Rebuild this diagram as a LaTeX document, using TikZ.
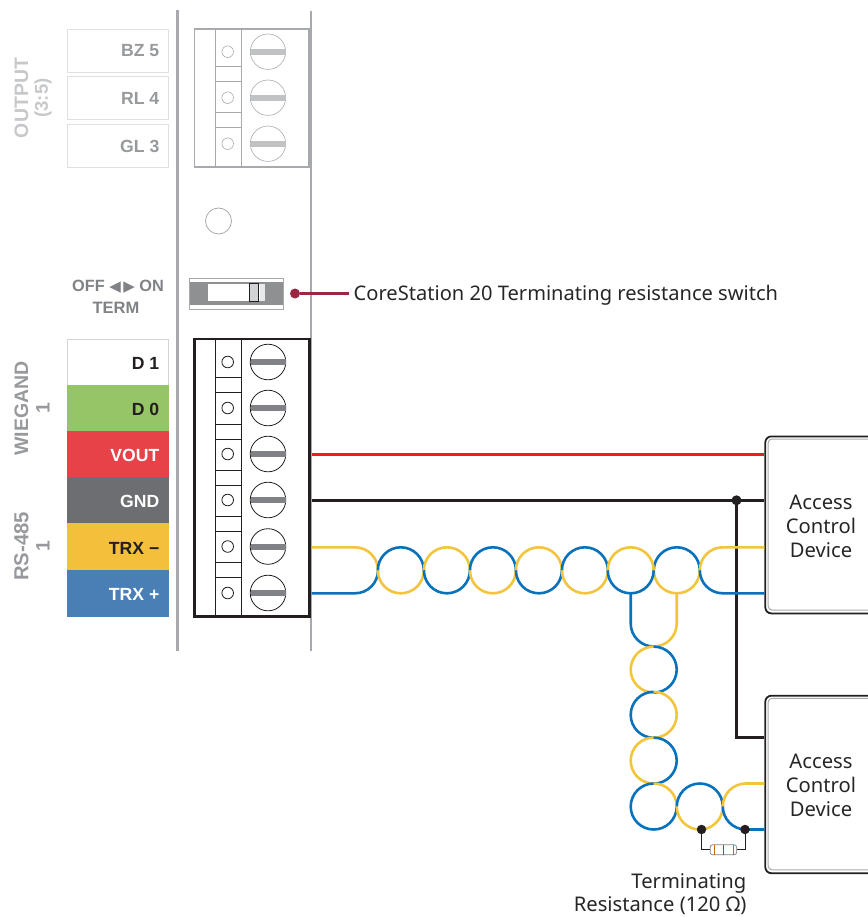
\documentclass[tikz,border=0pt]{standalone}
\usepackage{fontspec}
\setmainfont{Noto Sans}
\newfontfamily\arialf{Liberation Sans}
\newfontfamily\symf{DejaVu Sans}
\definecolor{pgray}{HTML}{A7A9AC}
\definecolor{tgray}{HTML}{97999C}
\definecolor{pdark}{HTML}{808285}
\definecolor{lgray}{HTML}{D1D3D4}
\definecolor{tlight}{HTML}{C7C8CA}
\definecolor{wyellow}{HTML}{F2C53D}
\definecolor{wblue}{HTML}{0A72BA}
\definecolor{wred}{HTML}{ED1C24}
\definecolor{wblack}{HTML}{231F20}
\definecolor{maroon}{HTML}{9B2743}
\definecolor{pgreen}{HTML}{96C568}
\definecolor{pred}{HTML}{E64248}
\definecolor{pgrey}{HTML}{6D6E71}
\definecolor{pyellow}{HTML}{F4BF3A}
\definecolor{pblue}{HTML}{4A7FB5}
\newcommand{\halfarc}[5]{\draw[#5] (#1,#2) ++(#3:23) arc[start angle=#3,end angle=#4,radius=23];}
\tikzset{
 x=1pt,y=-1pt,
 pinlabel/.style={font=\arialf\bfseries\fontsize{17.6}{17.6}\selectfont,anchor=east,inner sep=0pt},
 sidelabel/.style={font=\arialf\bfseries\fontsize{19.5}{19.5}\selectfont,rotate=90,inner sep=0pt},
 pinbox/.style={minimum width=102pt,inner sep=0pt,anchor=north west},
 ywire/.style={draw=wyellow,line width=2.6pt},
 bwire/.style={draw=wblue,line width=2.6pt},
 kwire/.style={draw=wblack,line width=2.5pt},
 rwire/.style={draw=wred,line width=2.5pt},
 devbox/.style={draw=wblack,line width=1.8pt,rounded corners=6pt,minimum width=140pt,minimum height=#1,inner sep=0pt,anchor=north west},
 devinner/.style={draw=pgray,line width=1pt,rounded corners=4pt,minimum width=140pt,minimum height=#1,inner sep=0pt,anchor=north west},
 devtext/.style={font=\fontsize{20.2}{24}\selectfont,align=center,text=black!85,inner sep=0pt},
 dotk/.style={circle,fill=wblack,minimum size=#1,inner sep=0pt},
 notelabel/.style={font=\fontsize{20.2}{24}\selectfont,text=black!85,inner sep=0pt,anchor=base east},
}
\begin{document}
\begin{tikzpicture}
\useasboundingbox (0,0) rectangle (867,917);
% enclosure rails
\coordinate (railLt) at (177,10); \coordinate (railLb) at (177,651);
\coordinate (railRt) at (310.5,11); \coordinate (railRb) at (310.5,651);
\draw[pgray,line width=3pt] (railLt) -- (railLb);
\draw[pgray,line width=2pt] (railRt) -- (railRb);
% output labels
\foreach \n/\yy/\t in {bz/29/BZ 5,rl/76.5/RL 4,gl/124/GL 3}{
 \node[pinbox,draw=lgray!70,line width=1pt,minimum width=101.5pt,minimum height=43pt] (\n) at (66.7,\yy) {};
 \node[pinlabel,text=tgray] (\n t) at (159.5,\yy+22) {\t};
}
\node[sidelabel,text=tlight] (outa) at (21.5,98) {OUTPUT};
\node[sidelabel,text=tlight,font=\arialf\bfseries\fontsize{18.5}{18.5}\selectfont] (outb) at (43,98) {(3:5)};
% upper terminal block
\draw[pgray,line width=1.8pt] (194.5,29) rectangle (309,167);
\draw[pgray,line width=1pt] (215.3,29) -- (215.3,167) (241,29) -- (241,167)
 (215.3,67) -- (241,67) (215.3,82) -- (241,82) (215.3,113) -- (241,113) (215.3,128) -- (241,128);
\foreach \yy in {51.7,97.7,143.7}{
 \draw[pgray,line width=.6pt] (227.7,\yy) circle[radius=5.8];
 \draw[pgray,line width=.6pt] (268,\yy) circle[radius=17.7];
 \fill[lgray!60!pgray] (250.5,\yy-3) rectangle (285.5,\yy+3);
}
% LED
\node[circle,draw=pgray,line width=.8pt,minimum size=26pt,inner sep=0pt] (led) at (218.5,221) {};
% switch
\node[draw=pgray,line width=.8pt,minimum width=94pt,minimum height=31pt,inner sep=0pt] (sw) at (236.5,293.5) {};
\fill[pgray!85!black] (190,282) rectangle (283,305);
\fill[white] (208,284) rectangle (265,301);
\fill[lgray!50] (260,284) rectangle (265,301);
\draw[wblack,fill=lgray,line width=.8pt] (249.5,283.5) rectangle (258.5,301.5);
\node[circle,fill=maroon,minimum size=10pt,inner sep=0pt] (swdot) at (295,293.5) {};
\node[font=\fontsize{20.1}{22}\selectfont,anchor=base west,text=black!85,inner xsep=5pt,inner ysep=0pt] (swlabel) at (348.5,300.5) {CoreStation 20 Terminating resistance switch};
\draw[maroon,line width=2.5pt] (swdot) -- (swdot -| swlabel.west);
\node[font=\arialf\bfseries\fontsize{16.3}{16.3}\selectfont,text=pdark,inner sep=0pt] (offon) at (118,287) {OFF {\symf\fontsize{15}{15}\selectfont ◀\,▶} ON};
\node[font=\arialf\bfseries\fontsize{16.5}{16.5}\selectfont,text=pdark,inner sep=0pt] (term) at (116,308) {TERM};
% lower pin labels
\node[pinbox,fill=white,draw=lgray,line width=1pt,minimum width=101.5pt,minimum height=46pt] (d1) at (66.7,339) {};
\node[pinbox,fill=pgreen,minimum height=46.2pt] (d0) at (66.5,385) {};
\node[pinbox,fill=pred,minimum height=46.2pt] (vout) at (66.5,431) {};
\node[pinbox,fill=pgrey,minimum height=46.2pt] (gnd) at (66.5,477) {};
\node[pinbox,fill=pyellow,minimum height=47.2pt] (trxm) at (66.5,523) {};
\node[pinbox,fill=pblue,minimum height=47pt] (trxp) at (66.5,570) {};
\node[pinlabel,text=wblack] (d1t) at (159.5,363) {D 1};
\node[pinlabel,text=wblack] (d0t) at (159.5,409) {D 0};
\node[pinlabel,text=white] (voutt) at (159.5,455) {VOUT};
\node[pinlabel,text=white] (gndt) at (159.5,501.5) {GND};
\node[pinlabel,text=wblack] (trxmt) at (159.5,548) {TRX −};
\node[pinlabel,text=white] (trxpt) at (159.5,594) {TRX +};
\node[sidelabel,text=tgray] (wg) at (21.5,408.5) {WIEGAND};
\node[sidelabel,text=tgray] (wg1) at (43,408.5) {1};
\node[sidelabel,text=tgray,font=\arialf\bfseries\fontsize{20.3}{20.3}\selectfont] (rs) at (21.5,546.5) {RS-485};
\node[sidelabel,text=tgray] (rs1) at (43,546.5) {1};
% lower terminal block
\draw[wblack,line width=1pt] (215.3,339) -- (215.3,616.5) (241,339) -- (241,616.5);
\foreach \a in {377.3,392.3,424,439,470,485,516,531.3,562.3,577.3}{
 \draw[wblack,line width=1pt] (215.3,\a) -- (241,\a);
}
\foreach \yy in {362,408,454,500,546.5,593}{
 \draw[wblack,line width=.8pt] (227.7,\yy) circle[radius=5.8];
 \draw[wblack,line width=.8pt] (268,\yy) circle[radius=17.8];
 \fill[pdark] (250.5,\yy-3) rectangle (285.5,\yy+3);
}
\draw[wblack,line width=2.5pt] (194.5,339) rectangle (309.5,616.5);
% devices
\node[devbox=177pt] (dev1) at (764.4,435.5) {};
\node[devinner=171pt] (dev1i) at (767.6,438.5) {};
\node[devbox=177.5pt] (dev2) at (764.4,694.8) {};
\node[devinner=171.5pt] (dev2i) at (767.6,697.8) {};
\node[devtext] (dev1t) at (821,526) {Access\\Control\\Device};
\node[devtext] (dev2t) at (821,785) {Access\\Control\\Device};
% power wires
\coordinate (pv) at (311.5,454.3);
\coordinate (pg) at (311.5,500.3);
\coordinate (tap) at (736.5,500.3);
\coordinate (tapb) at (736.5,737.3);
\draw[rwire] (pv) -- (pv -| dev1.west);
\draw[kwire] (pg) -- (pg -| dev1.west);
\draw[kwire,line join=miter] (tap) -- (tapb) -- (tapb -| dev2.west);
\node[dotk=10pt] (tapdot) at (tap) {};
% RS-485 twisted pair, horizontal run
\coordinate (py) at (311.5,547.3);
\coordinate (pb) at (311.5,593.3);
\coordinate (ey) at (722.5,547.3);
\coordinate (eb) at (722.5,593.3);
\draw[ywire] (py) -- (355,547.3) arc[start angle=270,end angle=360,radius=23];
\draw[bwire] (pb) -- (355,593.3) arc[start angle=90,end angle=0,radius=23];
\foreach \cx/\tc/\bc in {400.8/bwire/ywire,446.9/ywire/bwire,492.9/bwire/ywire,538.9/ywire/bwire,584.9/bwire/ywire,676.8/bwire/ywire}{
 \halfarc{\cx}{570.3}{180}{360}{\tc}
 \halfarc{\cx}{570.3}{180}{0}{\bc}
}
% junction circle
\halfarc{630.7}{570.3}{180}{360}{ywire}
\halfarc{630.7}{570.3}{180}{0}{bwire}
\draw[ywire] (699.8,570.3) arc[start angle=180,end angle=270,radius=23] -- (ey -| dev1.west);
\draw[bwire] (699.8,570.3) arc[start angle=180,end angle=90,radius=23] -- (eb -| dev1.west);
% drop to second device
\draw[bwire] (630.7,593.3) -- (630.7,623.5) arc[start angle=180,end angle=90,radius=23];
\draw[ywire] (676.7,593.3) -- (676.7,623.5) arc[start angle=0,end angle=90,radius=23];
\foreach \cy/\lc/\rc in {669.6/ywire/bwire,714.8/bwire/ywire,760.6/ywire/bwire}{
 \halfarc{653.7}{\cy}{90}{270}{\lc}
 \halfarc{653.7}{\cy}{90}{-90}{\rc}
}
\draw[bwire] (653.7,783.5) arc[start angle=270,end angle=0,radius=23] ;
\draw[ywire] (653.7,783.5) arc[start angle=270,end angle=360,radius=23];
\halfarc{699.8}{806.5}{180}{360}{bwire}
\halfarc{699.8}{806.5}{180}{0}{ywire}
\draw[ywire] (722.8,806.5) arc[start angle=180,end angle=270,radius=23] -- (745.8,783.5 -| dev2.west);
\draw[bwire] (722.8,806.5) arc[start angle=180,end angle=90,radius=23] -- (745.8,829.5 -| dev2.west);
% terminating resistor
\node[dotk=9.5pt] (ra) at (701.5,829.5) {};
\node[dotk=9.5pt] (rb) at (745,829.5) {};
\node[draw=pdark,fill=white,line width=.7pt,rounded corners=2.5pt,minimum width=26.5pt,minimum height=10pt,inner sep=0pt] (res) at (723.4,849.8) {};
\draw[wblack,line width=1pt] (ra) |- (res.west);
\draw[wblack,line width=1pt] (rb) |- (res.east);
\draw[orange!80!black,line width=.9pt] (714,845) -- (714,854.6) (733,845) -- (733,854.6);
\draw[wred,line width=.9pt] (723.5,845) -- (723.5,854.6);
\node[notelabel] (n1) at (746.5,888) {Terminating};
\node[notelabel] (n2) at (746.5,911.5) {Resistance (120 Ω)};
\end{tikzpicture}
\end{document}
